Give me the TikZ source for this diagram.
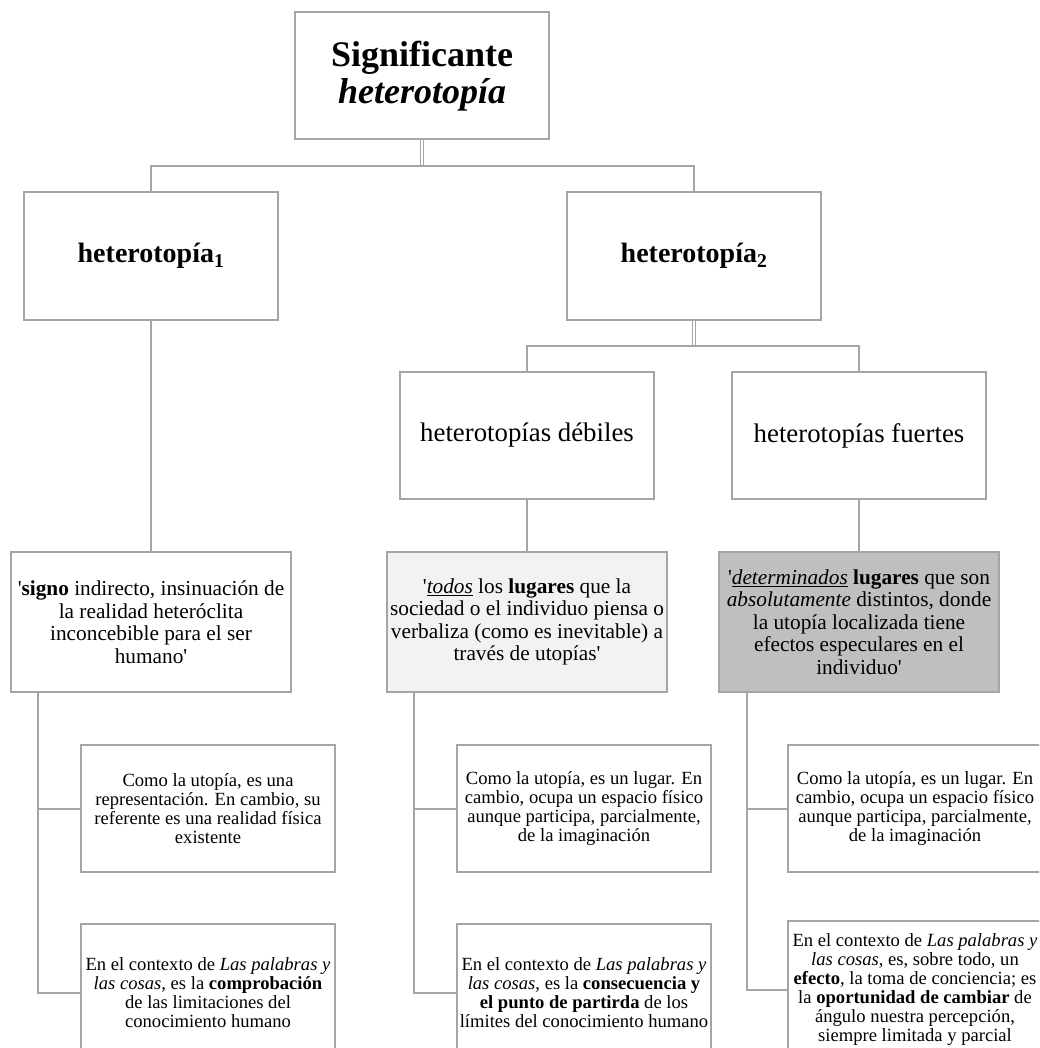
\documentclass[tikz,border=0pt]{standalone}
\usepackage{fontspec}
\setmainfont{Liberation Serif}
\usepackage{xcolor}
\usepackage{tikz}
\definecolor{linegray}{HTML}{A5A5A5}
\definecolor{palefill}{HTML}{F2F2F2}
\definecolor{darkfill}{HTML}{BFBFBF}
\tikzset{
  box/.style={
    draw=linegray,
    line width=2pt,
    fill=white,
    align=center,
    inner sep=0pt,
    minimum width=254pt,
    minimum height=127pt
  },
  headbox/.style={box, font=\fontsize{36}{37}\selectfont\bfseries},
  levelbox/.style={box, font=\fontsize{28}{30}\selectfont\bfseries},
  kindbox/.style={box, font=\fontsize{26.8}{29}\selectfont},
  defbox/.style={
    box,
    minimum width=280pt,
    minimum height=140pt,
    font=\fontsize{21.3}{22.5}\selectfont
  },
  notebox/.style={box, font=\fontsize{18.6}{19}\selectfont},
  link/.style={draw=linegray, line width=2pt},
  twinlink/.style={draw=linegray, line width=1.3pt, double=white, double distance=1.6pt}
}

\begin{document}
\begin{tikzpicture}[x=1pt,y=-1pt]
  \useasboundingbox (0,0) rectangle (1039,1048);
  \clip (0,0) rectangle (1039,1048);

  \node[headbox] (sig) at (422,76) {Significante\\\textit{heterotopía}};
  \node[levelbox] (het1) at (151,256) {heterotopía\textsubscript{1}};
  \node[levelbox] (het2) at (694,256) {heterotopía\textsubscript{2}};
  \node[kindbox] (deb) at (527,435.5) {heterotopías débiles};
  \node[kindbox] (fue) at (859,435.5) {heterotopías fuertes};

  \node[defbox] (signo) at (151,622) {\textquotesingle\textbf{signo} indirecto, insinuación de\\la realidad heteróclita\\inconcebible para el ser\\humano\textquotesingle};
  \node[defbox, fill=palefill] (todos) at (527,622) {\textquotesingle\underline{\textit{todos}} los \textbf{lugares} que la\\sociedad o el individuo piensa o\\verbaliza (como es inevitable) a\\través de utopías\textquotesingle};
  \node[defbox, fill=darkfill] (deter) at (859,622) {\textquotesingle\underline{\textit{determinados}} \textbf{lugares} que son\\\textit{absolutamente} distintos, donde\\la utopía localizada tiene\\efectos especulares en el\\individuo\textquotesingle};

  \node[notebox] (n1a) at (208,808.5) {Como la utopía, es una\\representación. En cambio, su\\referente es una realidad física\\existente};
  \node[notebox, minimum height=138pt] (n1b) at (208,993) {En el contexto de \textit{Las palabras y}\\\textit{las cosas}, es la \textbf{comprobación}\\de las limitaciones del\\conocimiento humano};
  \node[notebox] (n2a) at (584,808.5) {Como la utopía, es un lugar. En\\cambio, ocupa un espacio físico\\aunque participa, parcialmente,\\de la imaginación};
  \node[notebox, minimum height=138pt] (n2b) at (584,993) {En el contexto de \textit{Las palabras y}\\\textit{las cosas}, es la \textbf{consecuencia y}\\\textbf{el punto de partirda} de los\\límites del conocimiento humano};
  \node[notebox] (n3a) at (915,808.5) {Como la utopía, es un lugar. En\\cambio, ocupa un espacio físico\\aunque participa, parcialmente,\\de la imaginación};
  \node[notebox, minimum height=138pt] (n3b) at (915,990) {En el contexto de \textit{Las palabras y}\\\textit{las cosas}, es, sobre todo, un\\\textbf{efecto}, la toma de conciencia; es\\la \textbf{oportunidad de cambiar} de\\ángulo nuestra percepción,\\siempre limitada y parcial};

  \coordinate (bustop) at (422,166);
  \coordinate (busmid) at (694,346);
  \draw[twinlink] (sig.south) -- (bustop);
  \draw[link] (het1.north) |- (bustop) -| (het2.north);
  \draw[twinlink] (het2.south) -- (busmid);
  \draw[link] (deb.north) |- (busmid) -| (fue.north);

  \draw[link] (het1.south) -- (signo.north);
  \draw[link] (deb.south) -- (todos.north);
  \draw[link] (fue.south) -- (deter.north);

  \draw[link] ([xshift=28pt]signo.south west) |- (n1a.west);
  \draw[link] ([xshift=28pt]signo.south west) |- (n1b.west);
  \draw[link] ([xshift=28pt]todos.south west) |- (n2a.west);
  \draw[link] ([xshift=28pt]todos.south west) |- (n2b.west);
  \draw[link] ([xshift=29pt]deter.south west) |- (n3a.west);
  \draw[link] ([xshift=29pt]deter.south west) |- (n3b.west);
\end{tikzpicture}
\end{document}
